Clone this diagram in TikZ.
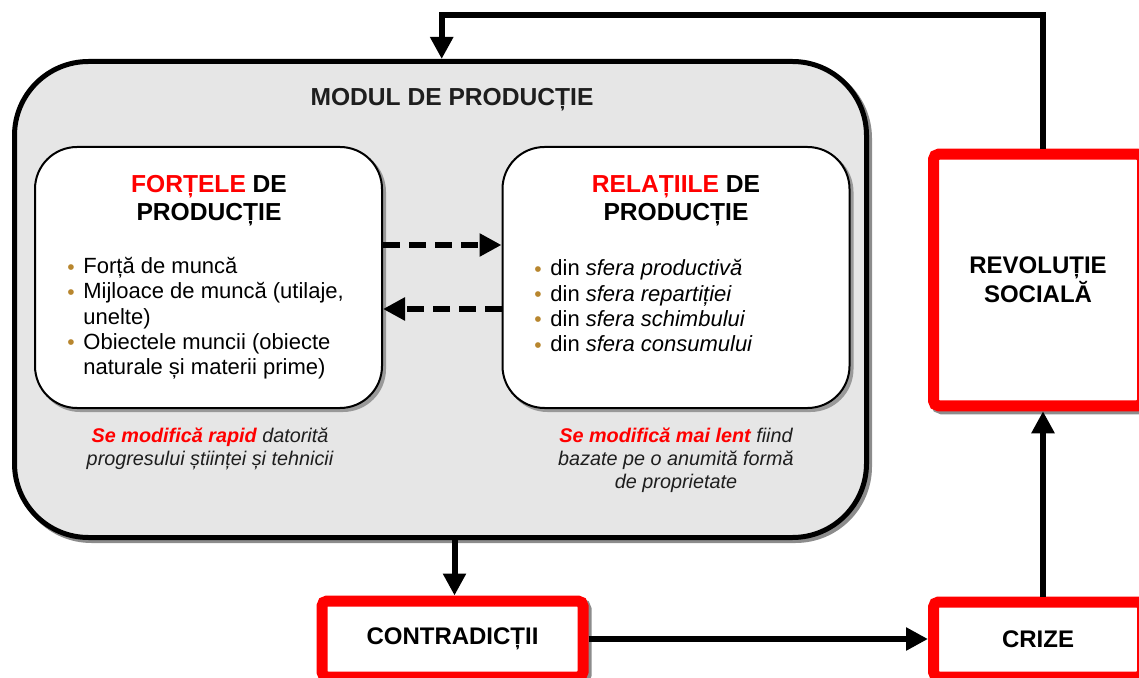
\documentclass[tikz,border=0pt]{standalone}
\usepackage{fontspec}
\setmainfont{Liberation Sans}
\usetikzlibrary{arrows.meta,shadows,calc}
\definecolor{boxgray}{HTML}{E6E6E6}
\definecolor{bulc}{HTML}{B8862E}
\definecolor{redc}{HTML}{FF0000}
\definecolor{txtc}{HTML}{1E1E1E}
\newcommand{\bul}{\makebox[8pt][l]{\textcolor{bulc}{\raisebox{-0.2pt}{\fontsize{10.5}{10}\selectfont •}}}}
\newcommand{\ind}{\hspace*{8pt}}
\tikzset{
  bigbox/.style={draw, line width=2.5pt, fill=boxgray, rounded corners=37pt,
    minimum width=426pt, minimum height=238pt, inner sep=0pt,
    drop shadow={shadow xshift=1.5pt, shadow yshift=-1.5pt, fill=black!45, draw=black!45, line width=2.5pt, opacity=1}},
  innerbox/.style={draw, line width=1pt, fill=white, rounded corners=21pt,
    minimum width=173.5pt, minimum height=130.5pt, inner sep=0pt,
    drop shadow={shadow xshift=1.5pt, shadow yshift=-1.5pt, fill=black!40, draw=black!40, line width=1pt, opacity=1}},
  redbox/.style={draw=redc, line width=5.5pt, fill=white, rounded corners=2.5pt,
    inner sep=0pt, align=center, text=black,
    font=\fontsize{12}{14.5}\selectfont\bfseries,
    drop shadow={shadow xshift=1.5pt, shadow yshift=-1.5pt, fill=black!45, draw=black!45, line width=5.5pt, opacity=1}},
  titletxt/.style={font=\fontsize{12.3}{14}\selectfont\bfseries, text=txtc, inner sep=0pt},
  headtxt/.style={font=\fontsize{12.3}{14}\selectfont\bfseries, align=center, inner sep=0pt},
  listtxt/.style={font=\fontsize{11}{12.65}\selectfont, align=left, inner sep=0pt, anchor=west},
  notetxt/.style={font=\fontsize{9.9}{11.6}\selectfont\itshape, align=center, inner sep=0pt, text=txtc},
  conn/.style={line width=3pt, -{Triangle[length=11pt,width=11pt]}},
  dconn/.style={conn, dash pattern=on 8.5pt off 4.5pt}
}
\begin{document}
\begin{tikzpicture}[x=0.5pt,y=-0.5pt]
\useasboundingbox (0,0) rectangle (1139,678);
\clip (0,0) rectangle (1139,678);

% main box
\node[bigbox] (big) at (440.5,299.5) {};
\node[titletxt] (ttl) at (452,100) {MODUL DE PRODUCȚIE};

% inner boxes
\node[innerbox] (lb) at (208.5,277.5) {};
\node[innerbox] (rb) at (676,277.5) {};

\node[headtxt] (fh) at (209,201) {\textcolor{redc}{FORȚELE} DE\\PRODUCȚIE};
\node[headtxt] (rh) at (676,201) {\textcolor{redc}{RELAȚIILE} DE\\PRODUCȚIE};

\node[listtxt] (fl) at (67,318.5) {\bul Forță de muncă\\
\bul Mijloace de muncă (utilaje,\\
\ind unelte)\\
\bul Obiectele muncii (obiecte\\
\ind naturale și materii prime)};

\node[listtxt] (rl) at (534,306) {\bul din \textit{sfera productivă}\\
\bul din \textit{sfera repartiției}\\
\bul din \textit{sfera schimbului}\\
\bul din \textit{sfera consumului}};

\node[notetxt] (fn) at (210,448.5) {{\bfseries\color{redc}Se modifică rapid} datorită\\progresului științei și tehnicii};
\node[notetxt] (rn) at (676,460) {{\bfseries\color{redc}Se modifică mai lent} fiind\\bazate pe o anumită formă\\de proprietate};

% red boxes
\node[redbox, minimum width=130.5pt, minimum height=38pt] (con) at (452.5,639) {CONTRADICȚII};
\node[redbox, minimum width=104.5pt, minimum height=37.5pt] (cri) at (1038,639.5) {CRIZE};
\node[redbox, minimum width=104.5pt, minimum height=125.75pt] (rev) at (1038,280) {REVOLUȚIE\\SOCIALĂ};

% connectors
\coordinate (tc) at (441.7,15);
\draw[dconn] ([yshift=16.25pt]lb.east) -- ([yshift=16.25pt]lb.east -| rb.west);
\draw[dconn] ([yshift=-15.75pt]rb.west) -- ([yshift=-15.75pt]rb.west -| lb.east);
\draw[conn] ([xshift=2.5pt]rev.north) |- (tc) -- (tc |- big.north);
\draw[conn] ([xshift=1pt]con.north |- big.south) -- ([xshift=1pt]con.north);
\draw[conn] (con.east) -- (con.east -| cri.west);
\draw[conn] ([xshift=2.5pt]cri.north) -- ([xshift=2.5pt]rev.south);
\end{tikzpicture}
\end{document}
